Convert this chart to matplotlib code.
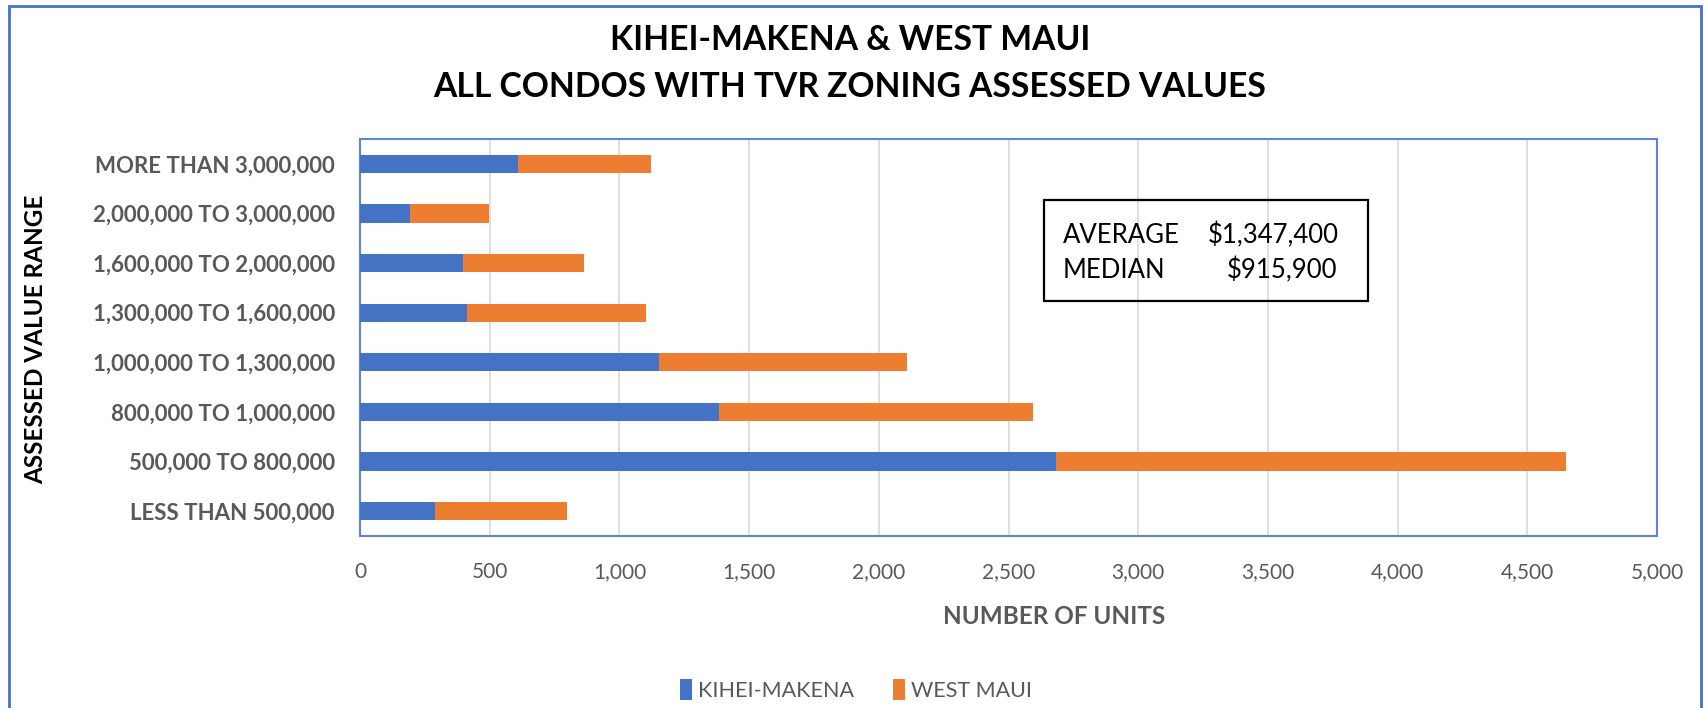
import matplotlib
matplotlib.use("Agg")
import matplotlib.pyplot as plt
from matplotlib.patches import Rectangle, Patch

plt.rcParams['font.family'] = ['Lato', 'DejaVu Sans']

categories = ["LESS THAN 500,000", "500,000 TO 800,000", "800,000 TO 1,000,000",
              "1,000,000 TO 1,300,000", "1,300,000 TO 1,600,000", "1,600,000 TO 2,000,000",
              "2,000,000 TO 3,000,000", "MORE THAN 3,000,000"]
kihei = [291, 2683, 1383, 1152, 414, 398, 192, 611]
west_maui = [508, 1966, 1211, 956, 689, 467, 305, 509]
xticks = [0, 500, 1000, 1500, 2000, 2500, 3000, 3500, 4000, 4500, 5000]
xtick_labels = ["0", "500", "1,000", "1,500", "2,000", "2,500", "3,000", "3,500", "4,000", "4,500", "5,000"]

BLUE = "#4472C4"
ORANGE = "#ED7D31"
GRAY = "#595959"

W, H = 1705, 708
fig = plt.figure(figsize=(W / 100, H / 100), dpi=100)
fig.patch.set_facecolor("white")

ax = fig.add_axes([360 / W, 1 - 536 / H, (1657 - 360) / W, (536 - 139) / H])
y = list(range(len(categories)))
ax.barh(y, kihei, height=0.37, color=BLUE, label="KIHEI-MAKENA", zorder=3)
ax.barh(y, west_maui, left=kihei, height=0.37, color=ORANGE, label="WEST MAUI", zorder=3)

ax.set_xlim(0, 5000)
ax.set_ylim(-0.5, len(categories) - 0.5)
ax.set_yticks(y)
ax.set_yticklabels(categories, fontsize=16, fontweight="bold", color=GRAY)
ax.set_xticks(xticks)
ax.set_xticklabels(xtick_labels, fontsize=15, color=GRAY)
ax.tick_params(axis="both", length=0)
ax.tick_params(axis="y", pad=18)
ax.tick_params(axis="x", pad=19)
ax.grid(axis="x", color="#D9D9D9", linewidth=1.2, zorder=0)
ax.set_axisbelow(True)
for s in ax.spines.values():
    s.set_color("#5B87D0")
    s.set_linewidth(1.5)

# Titles and labels
fig.text(850 / W, 1 - 40 / H, "KIHEI-MAKENA & WEST MAUI", ha="center", va="center",
         fontsize=24.2, fontweight="bold", color="black")
fig.text(850 / W, 1 - 87 / H, "ALL CONDOS WITH TVR ZONING ASSESSED VALUES", ha="center", va="center",
         fontsize=24.2, fontweight="bold", color="black")
fig.text(1054 / W, 1 - 616 / H, "NUMBER OF UNITS", ha="center", va="center",
         fontsize=17.5, fontweight="bold", color=GRAY)
fig.text(36 / W, 1 - 339 / H, "ASSESSED VALUE RANGE", ha="center", va="center", rotation=90,
         fontsize=17.5, fontweight="bold", color="black")

# Annotation box
fig.patches.append(Rectangle((1044 / W, 1 - 301 / H), (1368 - 1044) / W, (301 - 200) / H,
                             transform=fig.transFigure, fill=False, edgecolor="black", linewidth=1.6))
fig.text(1063 / W, 1 - 235 / H, "AVERAGE", ha="left", va="center", fontsize=18.5, color="black")
fig.text(1339 / W, 1 - 235 / H, "$1,347,400", ha="right", va="center", fontsize=18.5, color="black")
fig.text(1063 / W, 1 - 270 / H, "MEDIAN", ha="left", va="center", fontsize=18.5, color="black")
fig.text(1337 / W, 1 - 270 / H, "$915,900", ha="right", va="center", fontsize=18.5, color="black")

# Legend
handles = [Patch(facecolor=BLUE), Patch(facecolor=ORANGE)]
fig.legend(handles, ["KIHEI-MAKENA", "WEST MAUI"], loc="center", bbox_to_anchor=(856 / W, 1 - 690 / H),
           ncol=2, frameon=False, fontsize=15.5, labelcolor=GRAY, handlelength=0.55, handleheight=1.1,
           handletextpad=0.3, columnspacing=1.8)

# Outer border
fig.patches.append(Rectangle((9 / W, -0.1), (1701 - 9) / W, 1.1 - 6 / H,
                             transform=fig.transFigure, fill=False, edgecolor=BLUE, linewidth=2))

fig.savefig("out.png", dpi=100)
